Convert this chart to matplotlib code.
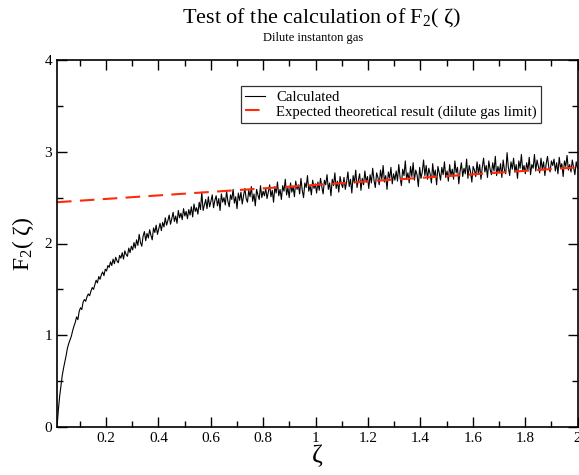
import numpy as np
import matplotlib.pyplot as plt

plt.rcParams['font.family'] = ['Liberation Serif', 'DejaVu Serif']
plt.rcParams['mathtext.fontset'] = 'custom'
plt.rcParams['mathtext.rm'] = 'Liberation Serif'
plt.rcParams['mathtext.it'] = 'Liberation Serif:italic'

# calculated F2(zeta) (400 samples from 0.0125 to 2)
f2_calc = [
    0.00, 0.18, 0.33, 0.45, 0.56, 0.64, 0.71, 0.78, 0.86, 0.91, 0.95, 0.99, 1.05, 1.10, 1.14, 1.20, 1.17, 1.26, 1.30, 1.28,
    1.36, 1.39, 1.37, 1.42, 1.45, 1.43, 1.48, 1.52, 1.50, 1.55, 1.60, 1.57, 1.64, 1.61, 1.66, 1.69, 1.65, 1.72, 1.70, 1.76,
    1.74, 1.80, 1.76, 1.83, 1.78, 1.85, 1.81, 1.79, 1.87, 1.84, 1.90, 1.83, 1.92, 1.88, 1.86, 1.95, 1.90, 1.97, 1.93, 2.01,
    1.95, 2.04, 1.98, 2.10, 2.01, 1.97, 2.08, 2.13, 2.03, 2.11, 2.06, 2.15, 2.09, 2.04, 2.17, 2.12, 2.20, 2.10, 2.16, 2.22,
    2.14, 2.23, 2.18, 2.28, 2.20, 2.25, 2.31, 2.21, 2.27, 2.34, 2.24, 2.30, 2.22, 2.36, 2.28, 2.33, 2.26, 2.38, 2.30, 2.35,
    2.27, 2.37, 2.31, 2.40, 2.29, 2.43, 2.35, 2.39, 2.32, 2.45, 2.37, 2.56, 2.36, 2.42, 2.48, 2.38, 2.51, 2.40, 2.46, 2.53,
    2.39, 2.47, 2.52, 2.41, 2.49, 2.36, 2.54, 2.45, 2.50, 2.42, 2.57, 2.46, 2.40, 2.53, 2.48, 2.59, 2.44, 2.51, 2.38, 2.55,
    2.47, 2.56, 2.43, 2.52, 2.60, 2.49, 2.45, 2.58, 2.51, 2.62, 2.46, 2.54, 2.41, 2.59, 2.53, 2.48, 2.63, 2.50, 2.57, 2.52,
    2.60, 2.49, 2.56, 2.64, 2.51, 2.58, 2.45, 2.62, 2.55, 2.67, 2.52, 2.59, 2.48, 2.63, 2.57, 2.70, 2.53, 2.61, 2.50, 2.66,
    2.56, 2.62, 2.51, 2.68, 2.59, 2.64, 2.54, 2.71, 2.58, 2.50, 2.66, 2.61, 2.74, 2.57, 2.63, 2.53, 2.69, 2.60, 2.65, 2.55,
    2.67, 2.58, 2.71, 2.62, 2.54, 2.69, 2.64, 2.75, 2.59, 2.66, 2.52, 2.70, 2.63, 2.77, 2.60, 2.68, 2.56, 2.73, 2.65, 2.61,
    2.72, 2.59, 2.67, 2.78, 2.62, 2.70, 2.55, 2.74, 2.66, 2.80, 2.61, 2.69, 2.76, 2.58, 2.71, 2.64, 2.79, 2.67, 2.73, 2.60,
    2.75, 2.66, 2.82, 2.69, 2.61, 2.77, 2.72, 2.64, 2.80, 2.70, 2.85, 2.67, 2.74, 2.59, 2.78, 2.71, 2.83, 2.65, 2.76, 2.69,
    2.79, 2.68, 2.86, 2.72, 2.63, 2.81, 2.74, 2.90, 2.70, 2.77, 2.66, 2.84, 2.73, 2.88, 2.69, 2.80, 2.75, 2.62, 2.83, 2.71,
    2.78, 2.91, 2.74, 2.85, 2.70, 2.82, 2.76, 2.66, 2.87, 2.73, 2.80, 2.64, 2.84, 2.77, 2.69, 2.83, 2.75, 2.89, 2.72, 2.79,
    2.68, 2.86, 2.74, 2.81, 2.70, 2.90, 2.77, 2.83, 2.65, 2.79, 2.88, 2.73, 2.82, 2.76, 2.92, 2.71, 2.85, 2.78, 2.67, 2.84,
    2.80, 2.73, 2.89, 2.76, 2.86, 2.70, 2.83, 2.93, 2.78, 2.85, 2.72, 2.90, 2.81, 2.75, 2.88, 2.79, 2.95, 2.74, 2.84, 2.77,
    2.87, 2.72, 2.91, 2.80, 2.76, 2.99, 2.83, 2.74, 2.89, 2.81, 2.93, 2.78, 2.86, 2.71, 2.90, 2.82, 2.97, 2.79, 2.85, 2.76,
    2.88, 2.80, 2.94, 2.75, 2.86, 2.82, 2.97, 2.79, 2.91, 2.84, 2.77, 2.93, 2.81, 2.89, 2.74, 2.87, 2.95, 2.83, 2.78, 2.90,
    2.85, 2.92, 2.79, 2.88, 2.76, 2.94, 2.82, 2.87, 2.73, 2.90, 2.84, 2.96, 2.80, 2.86, 2.78, 2.91, 2.83, 2.75, 2.89, 2.82,
]
zeta = np.linspace(0.0125, 2.0, len(f2_calc))

# theoretical dilute gas limit (straight line)
zeta_th = [0.0125, 2.0]
f2_th = [2.45, 2.83]

fig = plt.figure(figsize=(5.79, 4.75), dpi=100)
ax = fig.add_axes([57 / 579, 1 - 427 / 475, 520.5 / 579, 367 / 475])

ax.plot(zeta, f2_calc, color='black', lw=0.8, label='Calculated')
ax.plot(zeta_th, f2_th, color='#ff2a0a', lw=1.5, dashes=(7, 4),
        label='Expected theoretical result (dilute gas limit)')

ax.set_xlim(0.0125, 2.0)
ax.set_ylim(0, 4)
ax.set_xticks([0.2, 0.4, 0.6, 0.8, 1, 1.2, 1.4, 1.6, 1.8, 2])
ax.set_xticklabels(['0.2', '0.4', '0.6', '0.8', '1', '1.2', '1.4', '1.6', '1.8', '2'])
ax.set_xticks(np.arange(0.1, 2.0, 0.2), minor=True)
ax.set_yticks([0, 1, 2, 3, 4])
ax.set_yticks([0.5, 1.5, 2.5, 3.5], minor=True)
ax.tick_params(which='both', direction='in', top=True, right=True, labelsize=11)
ax.tick_params(which='major', length=7.5, width=1)
ax.tick_params(which='minor', length=4, width=1)
for s in ax.spines.values():
    s.set_linewidth(1.2)

ax.set_xlabel('ζ', fontsize=19, labelpad=0)
ax.set_ylabel('F$_2$( ζ)', fontsize=17, labelpad=6)

fig.text(0.555, 0.962, 'Test of the calculation of F$_2$( ζ)', ha='center', va='center', fontsize=16)
fig.text(0.541, 0.921, 'Dilute instanton gas', ha='center', va='center', fontsize=9)

leg = ax.legend(loc='upper left', bbox_to_anchor=((241 - 57) / 520.5, (427 - 86) / 367),
                fontsize=10.6, frameon=True, fancybox=False, edgecolor='black',
                handlelength=1.3, handletextpad=0.8, borderpad=0.3, labelspacing=0.1,
                borderaxespad=0)
leg.get_frame().set_linewidth(0.9)

fig.savefig('out.png', dpi=100)
